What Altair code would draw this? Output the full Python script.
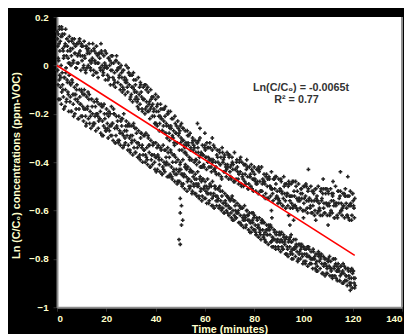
import altair as alt
import pandas as pd

X_TICKS = [0, 20, 40, 60, 80, 100, 120, 140]
Y_TICKS = [0.2, 0, -0.2, -0.4, -0.6, -0.8, -1.0]
SLOPE = -0.0065
LINE_END = 120.8
EQ_TEXT = "Ln(C/C₀) = -0.0065t"
R2_TEXT = "R² = 0.77"
EQ_POS = (99.0, -0.093)
R2_POS = (97.2, -0.142)

# Upper band, values in hundredths, one value per minute (t = 0..120)
UPPER_A = [14, 15, 12, 13, 11, 12, 10, 11, 9, 10, 8, 10, 7, 9, 6, 7, 8, 5, 6, 4,
           5, 3, 4, 1, 2, 1, 0, -2, 0, -3, -4, -3, -6, -5, -8, -9, -8, -11, -10, -13,
           -14, -13, -16, -18, -17, -20, -19, -22, -24, -23, -25, -26, -27, -29, -28,
           -30, -31, -32, -30, -33, -33, -34, -32, -35, -34, -35, -36, -34, -37, -36,
           -37, -38, -36, -39, -40, -40, -41, -39, -42, -43, -42, -43, -44, -42, -45,
           -45, -46, -44, -47, -46, -47, -48, -46, -49, -48, -49, -48, -50, -49, -51,
           -50, -49, -51, -50, -52, -51, -50, -52, -51, -53, -52, -51, -53, -50, -52,
           -52, -53, -51, -54, -52, -53]
UPPER_MID = [8, 10, 7, 9, 6, 6, 7, 5, 4, 6, 4, 3, 5, 2, 3, 2, 1, 3, 0, 1,
             -1, 0, -2, -3, -2, -4, -5, -6, -7, -8, -9, -10, -11, -12, -13, -14, -15, -16, -17, -18,
             -19, -21, -22, -23, -24, -25, -26, -27, -28, -29, -30, -31, -32, -33, -34,
             -35, -36, -36, -37, -37, -38, -38, -39, -39, -40, -40, -41, -40, -41, -42,
             -42, -43, -43, -44, -44, -45, -45, -46, -46, -47, -47, -48, -48, -49, -49,
             -50, -50, -51, -51, -52, -52, -53, -53, -53, -54, -54, -54, -55, -55, -55,
             -55, -56, -55, -56, -56, -56, -57, -56, -57, -57, -57, -56, -58, -57, -57,
             -57, -58, -57, -58, -58, -58]
UPPER_C = [2, 0, 3, -1, 1, 0, 2, -1, 1, -2, -1, -3, 0, -2, -4, -3, -5, -2, -4, -6,
           -6, -8, -5, -9, -7, -10, -9, -12, -11, -14, -15, -14, -17, -16, -19, -20, -19, -22, -21, -24,
           -25, -24, -27, -28, -30, -31, -30, -33, -32, -35, -35, -36, -37, -38, -39,
           -40, -41, -40, -42, -42, -43, -42, -44, -43, -45, -45, -46, -44, -46, -47,
           -47, -48, -47, -49, -49, -50, -49, -51, -50, -52, -52, -53, -52, -54, -53,
           -55, -54, -56, -55, -57, -57, -58, -56, -58, -59, -59, -58, -60, -59, -60,
           -60, -61, -59, -61, -60, -61, -60, -62, -61, -62, -62, -61, -63, -62, -61,
           -62, -63, -62, -64, -62, -63]
# further upper-band readings, as deviations (hundredths) from UPPER_MID
UPPER_DEV_1 = [3, -4, 6, -1, 2, -5, 4, 0, -3, 5, -2, 1, -6, 3, -1, 4, -4, 2, 5, -2,
               0, -5, 3, -3, 6, -1, 2, -4, 1, 5, -3, 4, -2, -6, 2, 0, 5, -3, 3, -1,
               -5, 2, 4, -2, -4, 6, 1, -3, 0, 3, -2, 5, -4, 1, -1, 4, -3, 2, -5, 0,
               3, -2, 5, -1, -4, 2, 0, 4, -3, 1, -2, 3, -5, 2, 5, -1, -3, 4, 0, -4,
               2, -1, 5, -3, 1, -5, 3, 0, 4, -2, -4, 1, 3, -1, 5, -3, 2, -4, 0, 4,
               -2, 6, -1, -5, 3, 1, -3, 5, -2, 0, 4, -4, 2, -1, 5, -3, 0, 3, -5, 1, 2]
UPPER_DEV_2 = [-5, 2, -1, 6, -3, 1, -6, 3, 5, -2, 4, -5, 1, -3, 6, -1, 3, -4, -2, 5,
               -3, 2, 6, -4, 0, 3, -6, 1, -2, 4, 5, -1, -4, 3, -5, 6, -2, 1, 4, -3,
               2, -6, 0, 5, -1, -3, 4, -5, 3, 1, 6, -2, -1, 4, -5, 2, -3, 5, 1, -4,
               0, 4, -3, 6, -2, -5, 3, 1, -1, 5, -4, 2, 0, -3, 6, -2, 4, -5, 1, 3,
               -1, 5, -4, 2, -6, 3, 0, -2, 5, -3, 1, -5, 4, 0, -2, 6, -4, 3, -1, 2,
               5, -3, 0, 4, -6, 2, -2, 1, -4, 6, -1, 3, -5, 0, 2, -3, 5, -2, 4, -6, -1]
UPPER_DEV_3 = [1, 6, -3, -5, 4, -2, 2, -6, 1, 3, -4, 5, 2, -1, -5, 3, 0, 6, -3, -1,
               4, -2, -6, 5, 1, -4, 3, -1, 6, -5, 0, 2, -3, 5, -1, -4, 6, -2, 1, -6,
               3, 0, -5, 2, 4, -1, -3, 6, -4, 2, -1, -3, 5, -6, 2, 1, 4, -2, -5, 3,
               6, -1, 0, -4, 3, 5, -6, 2, -2, 4, 1, -5, 3, -1, -6, 4, 2, -3, 5, 0,
               -2, 6, -4, 1, 3, -5, -1, 4, 2, -3, 5, -2, -6, 3, 0, -4, 6, -1, 2, -5,
               1, 4, -3, -2, 5, 0, -5, 3, 6, -1, -4, 2, 1, -6, 3, -2, 4, -5, 0, 5, 3]

# Lower band, values in hundredths, one value per minute (t = 0..120)
LOWER_A = [-2, -4, -3, -5, -6, -7, -6, -9, -8, -10, -11, -10, -13, -12, -14, -15, -14, -16, -17, -16,
           -18, -19, -17, -20, -21, -21, -22, -20, -23, -24, -25, -24, -26, -27, -28, -29, -28, -30, -31, -32,
           -32, -33, -34, -33, -35, -36, -35, -37, -38, -39, -40, -39, -41, -42, -43,
           -44, -45, -44, -46, -47, -48, -47, -49, -48, -50, -51, -50, -52, -53, -54,
           -55, -54, -56, -57, -58, -59, -58, -60, -61, -61, -62, -63, -63, -64, -65,
           -66, -67, -67, -68, -69, -70, -69, -71, -71, -72, -73, -72, -74, -74, -75,
           -75, -76, -75, -77, -77, -78, -77, -79, -79, -80, -80, -81, -80, -82, -82,
           -83, -82, -84, -84, -85, -85]
LOWER_MID = [-8, -9, -10, -10, -11, -13, -12, -14, -15, -16, -17, -18, -17, -19, -20, -21, -20, -22, -23, -22,
             -24, -25, -24, -26, -26, -27, -28, -27, -29, -30, -31, -31, -32, -33, -34, -35, -34, -36, -37, -37,
             -38, -39, -39, -40, -40, -41, -42, -43, -43, -44, -45, -46, -46, -47, -48,
             -49, -49, -50, -51, -51, -52, -53, -53, -54, -54, -55, -56, -57, -57, -58,
             -59, -60, -60, -61, -62, -63, -63, -64, -65, -65, -66, -67, -68, -68, -69,
             -70, -70, -71, -72, -72, -73, -73, -74, -75, -75, -76, -76, -77, -77, -78,
             -78, -79, -79, -80, -80, -81, -81, -82, -82, -83, -83, -84, -84, -85, -85,
             -86, -86, -87, -87, -88, -88]
LOWER_C = [-14, -16, -18, -15, -19, -19, -21, -18, -22, -21, -23, -25, -22, -26, -24, -27, -26, -28, -29, -27,
           -30, -29, -31, -32, -31, -33, -34, -32, -35, -36, -37, -36, -38, -39, -40, -40, -41, -42, -41, -43,
           -43, -44, -45, -44, -46, -46, -47, -48, -49, -48, -50, -51, -52, -51, -53,
           -53, -54, -55, -56, -55, -57, -56, -58, -59, -58, -59, -60, -61, -60, -62,
           -63, -64, -63, -65, -66, -67, -66, -68, -69, -68, -70, -71, -72, -71, -73,
           -74, -73, -75, -76, -75, -77, -76, -78, -79, -78, -80, -79, -81, -80, -82,
           -82, -83, -82, -84, -84, -85, -84, -86, -87, -86, -87, -88, -87, -89, -89,
           -90, -89, -91, -90, -92, -92]
# further lower-band readings, as deviations (hundredths) from LOWER_MID
LOWER_DEV_1 = [6, -5, 2, -7, 4, -2, 5, -6, 1, 3, -4, 6, -1, -5, 3, -3, 5, 0, -6, 2,
               4, -2, -5, 6, 1, -4, 3, -6, 2, 5, -1, -3, 4, -5, 6, 0, -4, 3, -2, 5,
               -6, 1, 4, -3, 2, -5, 6, -1, 3, -4, 2, -3, 4, 0, -2, 3, -4, 1, -1, 4,
               -3, 2, 0, -4, 3, -1, 4, -2, 1, -3, 3, -4, 2, 0, -3, 4, -1, 2, -4, 1,
               -2, 3, -1, 4, -3, 0, 2, -4, 3, -1, 4, -2, 1, -3, 3, -4, 0, 2, -1, 4,
               -3, 1, 3, -2, 0, -4, 2, 4, -1, -3, 2, -1, 4, -3, 1, 3, -4, 0, 2, -2, 3]
LOWER_DEV_2 = [-6, 4, -3, 7, -1, 5, -4, 2, -7, 0, 5, -3, 6, -2, -5, 4, -1, 3, 6, -4,
               -2, 5, 0, -6, 3, -1, 6, -3, 4, -5, 2, 5, -2, -4, 1, 6, -5, 3, 0, -3,
               4, -2, -6, 5, -1, 3, -4, 6, -2, 1, -4, 1, 3, -3, 4, -1, 2, -4, 3, 0,
               2, -4, 3, 1, -2, 4, -3, 0, -1, 3, -2, 4, -3, 1, 3, -1, -4, 2, 0, 4,
               -3, 1, -2, 3, -4, 2, 4, -1, -3, 0, 3, -3, 2, -1, 4, -2, 1, -4, 3, -1,
               2, 4, -3, 0, 1, -2, 3, -4, 2, -1, 4, -3, 1, 2, -4, 0, 3, -2, -1, 4, -2]
LOWER_DEV_3 = [2, -2, 5, -4, 7, -6, 0, 4, -3, 6, -1, -6, 3, 5, -4, 1, -3, 6, -2, -5,
               3, 0, 6, -3, -6, 4, -1, 2, -4, 1, 6, -5, 0, 3, -3, -2, 5, -6, 4, -1,
               1, 5, -3, -1, 6, -4, 2, -2, -5, 3, 0, 4, -2, 3, -4, 2, -1, 3, -3, 1,
               -1, 3, -2, 4, 0, -3, 2, -4, 3, -1, 4, -2, -1, 3, -4, 1, 3, 0, -2, 2,
               -4, 0, 3, -2, 1, 4, -3, -1, 2, -4, 1, 3, -4, 2, -2, 0, 4, -3, 1, 3,
               -3, 0, -1, 4, -2, 3, 1, -4, 0, 2, -1, -3, 4, 0, -2, 1, -3, 3, -4, 2, 0]

# Scattered readings away from the two bands
OUTLIER_T = [0.5, 1.0, 2.0, 40.0, 50.0, 50.5, 50.0, 51.0, 50.5, 49.5, 50.0, 57.0, 58.0, 60.0, 63.0,
             87.0, 87.2, 94.0, 94.5, 95.0, 95.2, 96.0, 100.0, 102.0, 105.0, 108.0, 110.0, 112.0,
             115.0, 118.0, 119.0, 121.0]
OUTLIER_V = [0.13, 0.16, 0.15, -0.12, -0.55, -0.58, -0.61, -0.64, -0.66, -0.72, -0.74, -0.24, -0.26,
             -0.28, -0.30, -0.60, -0.63, -0.62, -0.66, -0.70, -0.73, -0.64, -0.63, -0.43, -0.64,
             -0.47, -0.66, -0.48, -0.44, -0.46, -0.93, -0.91]

rows = []
for arr, off in [(UPPER_A, 0.0), (UPPER_MID, 0.33), (UPPER_C, 0.67),
                 (LOWER_A, 0.08), (LOWER_MID, 0.42), (LOWER_C, 0.75)]:
    for i, v in enumerate(arr):
        rows.append({"t": i + off, "v": v / 100.0})
for mid, devs, offs in [(UPPER_MID, [UPPER_DEV_1, UPPER_DEV_2, UPPER_DEV_3], [0.17, 0.5, 0.83]),
                        (LOWER_MID, [LOWER_DEV_1, LOWER_DEV_2, LOWER_DEV_3], [0.25, 0.58, 0.92])]:
    for dev, off in zip(devs, offs):
        for i, (m, d) in enumerate(zip(mid, dev)):
            rows.append({"t": i + off, "v": (m + d) / 100.0})
for t, v in zip(OUTLIER_T, OUTLIER_V):
    rows.append({"t": t, "v": v})
pts = pd.DataFrame(rows)

line_df = pd.DataFrame({"t": [0.0, LINE_END], "v": [0.0, SLOPE * LINE_END]})
text_df = pd.DataFrame({"t": [EQ_POS[0], R2_POS[0]], "v": [EQ_POS[1], R2_POS[1]],
                        "label": [EQ_TEXT, R2_TEXT]})
edge_df = pd.DataFrame({"t": [140]})

xs = alt.Scale(domain=[0, 140], nice=False)
ys = alt.Scale(domain=[-1, 0.2], nice=False)

x_axis = alt.Axis(values=X_TICKS, title="Time (minutes)", labelPadding=3,
                  titleY=17, titleBaseline="top", titleAnchor="middle")
y_axis = alt.Axis(values=Y_TICKS, title="Ln (C/C₀) concentrations (ppm-VOC)", format="~g",
                  labelPadding=5, titleX=-41, titleY=151, titleAngle=-90,
                  titleAlign="center", titleBaseline="middle")

points = alt.Chart(pts).mark_point(shape="cross", filled=True, size=15, color="#232323",
                                   opacity=1, strokeWidth=0).encode(
    x=alt.X("t:Q", scale=xs, axis=x_axis),
    y=alt.Y("v:Q", scale=ys, axis=y_axis),
)
reg = alt.Chart(line_df).mark_line(color="#ff0000", strokeWidth=1.6).encode(
    x=alt.X("t:Q", scale=xs), y=alt.Y("v:Q", scale=ys))
txt = alt.Chart(text_df).mark_text(font="Liberation Sans", fontWeight="bold", fontSize=11,
                                   color="#333333", align="center").encode(
    x=alt.X("t:Q", scale=xs), y=alt.Y("v:Q", scale=ys), text="label:N")
edge = alt.Chart(edge_df).mark_rule(color="#8c8c8c", strokeWidth=2).encode(
    x=alt.X("t:Q", scale=xs))

chart = alt.layer(points, reg, txt, edge).properties(
    width=352, height=296,
    autosize=alt.AutoSizeParams(type="none"),
    padding={"left": 50, "top": 6, "right": 2, "bottom": 24},
    background="black",
).configure_view(fill="white", stroke=None).configure_axis(
    grid=False,
    labelColor="#FFFFCC", labelFont="Liberation Sans", labelFontWeight="bold", labelFontSize=10,
    titleColor="#FFFFCC", titleFont="Liberation Sans", titleFontWeight="bold", titleFontSize=11,
    domainColor="#8c8c8c", domainWidth=2, tickColor="#333333", tickSize=4,
)

chart.save("out.html", embed_options={"renderer": "svg", "actions": False})
